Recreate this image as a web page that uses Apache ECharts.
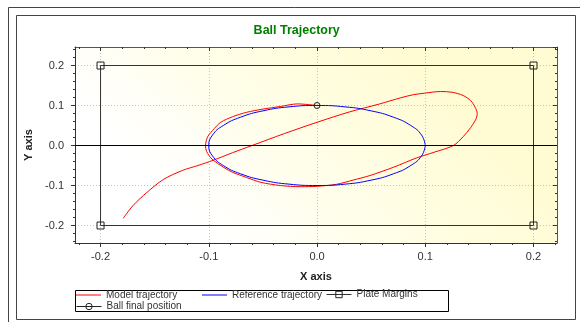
<!DOCTYPE html>
<html><head><meta charset="utf-8">
<script src="https://cdn.jsdelivr.net/npm/echarts@6/dist/echarts.min.js"></script>
<style>html,body{margin:0;padding:0;background:#fff}#c{width:580px;height:322px}</style>
</head><body><div id="c"></div><script>
// ---------- data ----------
const seriesNames = ['Model trajectory', 'Reference trajectory', 'Plate Margins', 'Ball final position'];
const chartTitle = 'Ball Trajectory';
const xAxisName = 'X axis';
const yAxisName = 'Y axis';

const modelTrajectory = [
  [-0.179,-0.182],[-0.170,-0.150],[-0.157,-0.117],[-0.142,-0.085],[-0.124,-0.062],
  [-0.110,-0.050],[-0.096,-0.037],[-0.078,-0.018],[-0.060,0.000],[-0.030,0.030],
  [0.000,0.058],[0.030,0.084],[0.058,0.104],[0.077,0.119],[0.089,0.127],
  [0.100,0.131],[0.114,0.135],[0.125,0.133],[0.135,0.125],[0.142,0.112],
  [0.146,0.096],[0.148,0.080],[0.147,0.067],[0.142,0.045],[0.135,0.022],
  [0.126,0.000],[0.108,-0.017],[0.092,-0.031],[0.071,-0.054],[0.049,-0.075],
  [0.034,-0.086],[0.018,-0.097],[0.000,-0.102],[-0.015,-0.103],[-0.034,-0.100],
  [-0.052,-0.092],[-0.065,-0.080],[-0.078,-0.067],[-0.086,-0.055],[-0.097,-0.034],
  [-0.102,-0.015],[-0.103,0.000],[-0.101,0.022],[-0.095,0.042],[-0.089,0.058],
  [-0.078,0.072],[-0.065,0.083],[-0.050,0.091],[-0.034,0.0975],[-0.018,0.104],
  [0.000,0.100]
];
const referenceTrajectory = [
  [0.1,0],[0.0966,0.0259],[0.0866,0.05],[0.0707,0.0707],[0.05,0.0866],[0.0259,0.0966],
  [0,0.1],[-0.0259,0.0966],[-0.05,0.0866],[-0.0707,0.0707],[-0.0866,0.05],[-0.0966,0.0259],
  [-0.1,0],[-0.0966,-0.0259],[-0.0866,-0.05],[-0.0707,-0.0707],[-0.05,-0.0866],[-0.0259,-0.0966],
  [0,-0.1],[0.0259,-0.0966],[0.05,-0.0866],[0.0707,-0.0707],[0.0866,-0.05],[0.0966,-0.0259],
  [0.1,0]
];
const plateMargins = [[-0.2,0.2],[0.2,0.2],[0.2,-0.2],[-0.2,-0.2],[-0.2,0.2]];
const ballFinalPosition = [[0,0.1]];
const zeroLineY = 0;

// axis extents
const xRange = [-0.2236, 0.2217];
const yRange = [-0.24375, 0.24625];
const xMinorRange = [-0.22, 0.22];
const yMinorRange = [-0.24, 0.24];
const minorStep = 0.02;

// ---------- layout ----------
const W = 580, H = 322;
const P = {l: 75, r: 557, t: 47, b: 243};
const pxPerX = (P.r - P.l) / (xRange[1] - xRange[0]);
const pxPerY = (P.b - P.t) / (yRange[1] - yRange[0]);
const px0 = P.l - xRange[0] * pxPerX;      // pixel of x = 0
const py0 = P.t + yRange[1] * pxPerY;      // pixel of y = 0
const FONT = 'Liberation Sans, Arial, sans-serif';
const AX = '#333';
const LINE_ICON = 'path://M0,0h25v1h-25z';

const chart = echarts.init(document.getElementById('c'), null, {renderer: 'canvas'});

const mainGrid = {left: P.l, top: P.t, width: P.r - P.l, height: P.b - P.t, show: true, borderWidth: 0,
  backgroundColor: {type: 'linear', x: 0.3, y: 1, x2: 0.7, y2: 0,
    colorStops: [{offset: 0, color: '#ffffff'}, {offset: 0.5, color: '#fffee6'}, {offset: 1, color: '#fffbd2'}]}};
const xMinorGrid = {left: px0 + xMinorRange[0] * pxPerX, width: (xMinorRange[1] - xMinorRange[0]) * pxPerX,
  top: P.t, height: P.b - P.t, show: false};
const yMinorGrid = {left: P.l, width: P.r - P.l, top: py0 - yMinorRange[1] * pxPerY,
  height: (yMinorRange[1] - yMinorRange[0]) * pxPerY, show: false};

const noLabel = {show: false};
const gridLine = {show: true, lineStyle: {color: '#c4c4c4', type: [1, 2], width: 1}};
const hiddenAxis = (gi) => ({type: 'value', gridIndex: gi, show: false, min: 0, max: 1});

function legendFor(name, left, top, lineOnly) {
  return {data: [lineOnly ? {name: name, icon: LINE_ICON} : name], left: left, top: top, padding: 0,
    itemWidth: 25, itemHeight: 8, symbolKeepAspect: true,
    lineStyle: {width: 1}, itemStyle: {borderWidth: 1},
    selectedMode: false, textStyle: {fontSize: 10, color: '#333', fontFamily: FONT}};
}

// plate polygon: marker only once per corner (closing point has no marker)
const plateData = plateMargins.map((p, i) =>
  i === plateMargins.length - 1 ? {value: p, symbol: 'none'} : {value: p});

chart.setOption({
  animation: false,
  backgroundColor: '#fff',
  title: {text: chartTitle, left: 296.7, top: 24, padding: 0, textAlign: 'center',
    textStyle: {color: '#008000', fontWeight: 'bold', fontSize: 12.5, fontFamily: FONT}},
  grid: [mainGrid, xMinorGrid, yMinorGrid],
  xAxis: [
    {type: 'value', gridIndex: 0, position: 'bottom', min: xRange[0], max: xRange[1], splitNumber: 4,
      axisLine: {show: true, onZero: false, lineStyle: {color: AX}},
      axisTick: {show: true, inside: false, length: 4, lineStyle: {color: AX}},
      axisLabel: {show: true, margin: 8, fontSize: 11, color: '#333', fontFamily: FONT,
        showMinLabel: false, showMaxLabel: false, formatter: v => v.toFixed(1)},
      splitLine: gridLine,
      name: xAxisName, nameLocation: 'middle', nameGap: 28,
      nameTextStyle: {fontWeight: 'bold', fontSize: 11, color: '#222', fontFamily: FONT}},
    {type: 'value', gridIndex: 0, position: 'top', min: xRange[0], max: xRange[1], splitNumber: 4,
      axisLine: {show: true, onZero: false, lineStyle: {color: '#555'}},
      axisTick: {show: true, inside: true, length: 4, lineStyle: {color: AX}},
      axisLabel: noLabel, splitLine: {show: false}},
    {type: 'value', gridIndex: 1, position: 'bottom', min: xMinorRange[0], max: xMinorRange[1], interval: minorStep,
      axisLine: {show: false, onZero: false}, axisTick: {show: true, length: 2, lineStyle: {color: AX}},
      axisLabel: noLabel, splitLine: {show: false}},
    {type: 'value', gridIndex: 1, position: 'top', min: xMinorRange[0], max: xMinorRange[1], interval: minorStep,
      axisLine: {show: false, onZero: false}, axisTick: {show: true, inside: true, length: 2, lineStyle: {color: AX}},
      axisLabel: noLabel, splitLine: {show: false}},
    hiddenAxis(2)
  ],
  yAxis: [
    {type: 'value', gridIndex: 0, position: 'left', min: yRange[0], max: yRange[1], splitNumber: 4,
      axisLine: {show: true, onZero: false, lineStyle: {color: AX}},
      axisTick: {show: true, inside: false, length: 4, lineStyle: {color: AX}},
      axisLabel: {show: true, margin: 11, fontSize: 11, color: '#333', fontFamily: FONT,
        showMinLabel: false, showMaxLabel: false, formatter: v => v.toFixed(1)},
      splitLine: gridLine,
      name: yAxisName, nameLocation: 'middle', nameGap: 30,
      nameTextStyle: {fontWeight: 'bold', fontSize: 11, color: '#222', fontFamily: FONT}},
    {type: 'value', gridIndex: 0, position: 'right', min: yRange[0], max: yRange[1], splitNumber: 4,
      axisLine: {show: true, onZero: false, lineStyle: {color: '#555'}},
      axisTick: {show: true, inside: true, length: 4, lineStyle: {color: AX}},
      axisLabel: noLabel, splitLine: {show: false}},
    {type: 'value', gridIndex: 2, position: 'left', min: yMinorRange[0], max: yMinorRange[1], interval: minorStep,
      axisLine: {show: false, onZero: false}, axisTick: {show: true, length: 2, lineStyle: {color: AX}},
      axisLabel: noLabel, splitLine: {show: false}},
    {type: 'value', gridIndex: 2, position: 'right', min: yMinorRange[0], max: yMinorRange[1], interval: minorStep,
      axisLine: {show: false, onZero: false}, axisTick: {show: true, inside: true, length: 2, lineStyle: {color: AX}},
      axisLabel: noLabel, splitLine: {show: false}},
    hiddenAxis(1)
  ],
  legend: [
    legendFor(seriesNames[0], 76, 290, true),
    legendFor(seriesNames[1], 202, 290, true),
    legendFor(seriesNames[2], 326, 289.5, false),
    legendFor(seriesNames[3], 76, 301.5, false)
  ],
  series: [
    {name: 'zero', type: 'line', xAxisIndex: 0, yAxisIndex: 0, data: [], silent: true, z: 1,
      markLine: {silent: true, symbol: 'none', label: {show: false},
        lineStyle: {color: '#000', type: 'solid', width: 1}, data: [{yAxis: zeroLineY}]}},
    {name: seriesNames[0], type: 'line', xAxisIndex: 0, yAxisIndex: 0, data: modelTrajectory,
      symbol: 'none', smooth: 0.3, lineStyle: {color: '#ff0000', width: 1}, itemStyle: {color: '#ff0000'}, z: 3},
    {name: seriesNames[1], type: 'line', xAxisIndex: 0, yAxisIndex: 0, data: referenceTrajectory,
      symbol: 'none', smooth: 0.5, lineStyle: {color: '#0000ff', width: 1}, itemStyle: {color: '#0000ff'}, z: 3},
    {name: seriesNames[2], type: 'line', xAxisIndex: 0, yAxisIndex: 0, data: plateData,
      symbol: 'rect', symbolSize: 7, lineStyle: {color: '#333', width: 1},
      itemStyle: {color: 'rgba(255,255,255,0)', borderColor: '#222', borderWidth: 1}, z: 2},
    {name: seriesNames[3], type: 'line', xAxisIndex: 0, yAxisIndex: 0, data: ballFinalPosition,
      symbol: 'circle', symbolSize: 6, lineStyle: {color: '#222', width: 1},
      itemStyle: {color: 'rgba(255,255,255,0)', borderColor: '#222', borderWidth: 1}, z: 4}
  ],
  graphic: [
    {type: 'polyline', silent: true, shape: {points: [[8.5, H], [8.5, 7.5], [W, 7.5]]},
      style: {stroke: '#444', fill: null, lineWidth: 1}},
    {type: 'rect', silent: true, shape: {x: 16.5, y: 15.5, width: 559, height: 304},
      style: {stroke: '#444', fill: null, lineWidth: 1}},
    {type: 'rect', silent: true, shape: {x: 75.5, y: 290.5, width: 373, height: 21},
      style: {stroke: '#000', fill: null, lineWidth: 1}}
  ]
});
</script></body></html>
